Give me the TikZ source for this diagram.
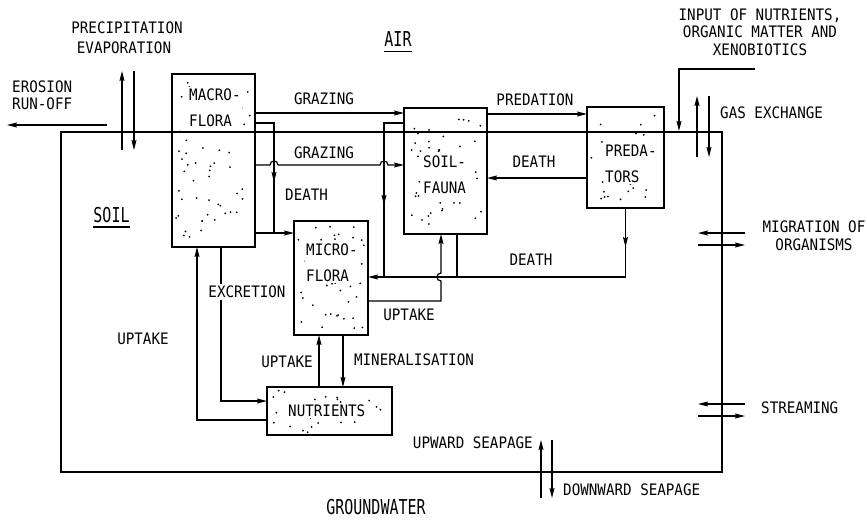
\documentclass[tikz,border=0pt]{standalone}
\usepackage{fontspec}
\newfontfamily\plotfont{DejaVu Sans Mono}[FakeStretch=0.9]
\newfontfamily\zonefont{DejaVu Sans Mono}[FakeStretch=0.73]
\newcommand{\lblfont}{\plotfont\fontsize{15.8}{18}\selectfont}
\newcommand{\poolfont}{\plotfont\fontsize{15.8}{26}\selectfont}
\newcommand{\zonetext}{\zonefont\fontsize{20.5}{24}\selectfont}
\usetikzlibrary{arrows.meta,calc,decorations.markings}

\begin{document}
\begin{tikzpicture}[x=1pt, y=-1pt,
    every node/.style={font=\lblfont, inner sep=0pt},
    flow/.style={line width=1.2pt, -{Stealth[length=10pt,width=5pt,inset=1.5pt]}},
    link/.style={line width=1.2pt},
    midtip/.style={postaction={decorate}, decoration={markings,
        mark=at position #1 with {\arrow{Stealth[length=10pt,width=5pt,inset=1.5pt]}}}},
    pool/.style={draw, line width=1.2pt, outer sep=0pt, inner sep=0pt},
    speckle/.style={path picture={
        \foreach \k in {1,...,#1}{
          \fill let \p1=(path picture bounding box.south west),
                    \p2=(path picture bounding box.north east) in
            ({\x1+(0.05+0.9*rnd)*(\x2-\x1)},{\y1+(0.05+0.9*rnd)*(\y2-\y1)}) circle (1pt);
        }}},
    pooltext/.style={align=left, anchor=west, fill=white, inner sep=1.5pt, font=\poolfont},
    zone/.style={font=\zonetext}]
  \useasboundingbox (0,0) rectangle (867,520);
  \pgfmathsetseed{7}

  % --- compartments ----------------------------------------------------
  \node[pool, speckle=60, minimum width=83pt, minimum height=173pt] (macro) at (213.5,160.5) {};
  \node[pool, speckle=45, minimum width=83pt, minimum height=126pt] (fauna) at (445.5,171) {};
  \node[pool, speckle=32, minimum width=77pt, minimum height=101pt] (pred) at (625.5,157.5) {};
  \node[pool, speckle=45, minimum width=74pt, minimum height=114pt] (micro) at (331,278) {};
  \node[pool, speckle=32, minimum width=125pt, minimum height=48pt] (nutr) at (329.5,411) {};

  \node[pooltext] (macro-l) at (187.5,107.5) {MACRO-\\FLORA};
  \node[pooltext] (fauna-l) at (421.5,174.5) {SOIL-\\FAUNA};
  \node[pooltext] (pred-l) at (603.5,163.5) {PREDA-\\TORS};
  \node[pooltext] (micro-l) at (304.5,262.5) {MICRO-\\FLORA};
  \node[pooltext] (nutr-l) at (286.5,411) {NUTRIENTS};

  % soil compartment, its top is the soil surface
  \node[draw, line width=2.2pt, minimum width=661pt, minimum height=340pt] (soil) at (391.5,302) {};

  % --- flows between compartments --------------------------------------
  % grazing above and below ground
  \draw[flow] (macro.east |- 0,113) -- (fauna.west |- 0,113);
  \node (graze-a) at (324,99) {GRAZING};
  \draw[flow] (macro.east |- 0,165) -- (270,165) .. controls (270,159.7) and (278,159.7) .. (278,165)
    -- (380,165) .. controls (380,159.7) and (388,159.7) .. (388,165) -- (fauna.west |- 0,165);
  \node (graze-b) at (324,153) {GRAZING};

  % death of macroflora
  \coordinate (mjoin) at (274,233);
  \draw[link, midtip=78pt] (macro.east |- 0,123) -| (mjoin);
  \draw[flow] (macro.east |- mjoin) -- (micro.west |- mjoin);
  \node[anchor=west] (death-a) at (285,195) {DEATH};

  % predation and death of predators
  \draw[flow] (fauna.east |- 0,114) -- (pred.west |- 0,114);
  \node (preda) at (535,100) {PREDATION};
  \draw[flow] (pred.west |- 0,178) -- (fauna.east |- 0,178);
  \node (death-b) at (534,162) {DEATH};

  % dead organisms to microflora
  \coordinate (fjoin) at (384,277);
  \draw[link, midtip=102pt] (fauna.west |- 0,123) -| (fjoin);
  \draw[link] (fauna.south -| 457,0) -- (457,277);
  \draw[flow, midtip=39pt] (pred.south) -- (pred.south |- fjoin) -- (micro.east |- fjoin);
  \node (death-c) at (531,260) {DEATH};

  % uptake by soil fauna, hopping the death line
  \draw[flow] (micro.east |- 0,301) -- (441,301) -- (441,281)
    .. controls (435.7,281) and (435.7,273) .. (441,273) -- (fauna.south -| 441,0);
  \node (upt-a) at (409,315) {UPTAKE};

  % macroflora and nutrients
  \draw[flow] (macro.south -| 221,0) -- (221,401) -- (nutr.west |- 0,401);
  \node[fill=white, inner sep=2pt] (excr) at (247,292) {EXCRETION};
  \draw[flow] (nutr.west |- 0,420) -- (197,420) -- (macro.south -| 197,0);
  \node (upt-b) at (143,339) {UPTAKE};

  % microflora and nutrients
  \draw[flow] (nutr.north -| 319,0) -- (micro.south -| 319,0);
  \draw[flow] (micro.south -| 343,0) -- (nutr.north -| 343,0);
  \node (upt-c) at (287,362) {UPTAKE};
  \node (miner) at (414,360) {MINERALISATION};

  % --- exchanges across the boundaries ---------------------------------
  \coordinate (rainbot) at (122,150);
  \coordinate (raintop) at (122,71);
  \draw[flow] (rainbot) -- (raintop);
  \draw[flow] (raintop -| 134,0) -- (rainbot -| 134,0);
  \node (precip) at (127,28) {PRECIPITATION};
  \node (evap) at (124,48) {EVAPORATION};

  \coordinate (erofrom) at (107,125);
  \coordinate (eroto) at (7,125);
  \draw[flow] (erofrom) -- (eroto);
  \node[anchor=west] (erosion) at (12,87) {EROSION};
  \node[anchor=west] (runoff) at (12,104) {RUN-OFF};

  \coordinate (inputin) at (755,69);
  \draw[flow] (inputin) -| (soil.north -| 679,0);
  \node[align=center, font=\plotfont\fontsize{15.8}{17.5}\selectfont] (input) at (760,32)
    {INPUT OF NUTRIENTS,\\ORGANIC MATTER AND\\XENOBIOTICS};

  \coordinate (gasbot) at (697,157);
  \coordinate (gastop) at (697,96);
  \draw[flow] (gasbot) -- (gastop);
  \draw[flow] (gastop -| 709,0) -- (gasbot -| 709,0);
  \node[anchor=west] (gas) at (720,113) {GAS EXCHANGE};

  \coordinate (migout) at (698,233);
  \coordinate (migin) at (745,233);
  \draw[flow] (migin) -- (migout);
  \draw[flow] (migout |- 0,245) -- (migin |- 0,245);
  \node[align=center] (migr) at (814,236) {MIGRATION OF\\ORGANISMS};

  \coordinate (strout) at (698,404);
  \coordinate (strin) at (745,404);
  \draw[flow] (strin) -- (strout);
  \draw[flow] (strout |- 0,416) -- (strin |- 0,416);
  \node[anchor=west] (stream) at (761,408) {STREAMING};

  \coordinate (seepbot) at (541,498);
  \coordinate (seeptop) at (541,440);
  \draw[flow] (seepbot) -- (seeptop);
  \draw[flow] (seeptop -| 552,0) -- (seepbot -| 552,0);
  \node[anchor=east] (upseep) at (533,443) {UPWARD SEAPAGE};
  \node[anchor=west] (downseep) at (563,490) {DOWNWARD SEAPAGE};

  % --- zones -------------------------------------------------------------
  \node[zone, anchor=base] (air) at (398,46.5) {AIR};
  \draw[line width=1.2pt] ([yshift=-5pt]air.base west) -- ([yshift=-5pt]air.base east);
  \node[zone, anchor=base] (soiltag) at (111.5,222) {SOIL};
  \draw[line width=1.2pt] ([yshift=-5pt]soiltag.base west) -- ([yshift=-5pt]soiltag.base east);
  \node[zone] (gw) at (376,507) {GROUNDWATER};
\end{tikzpicture}
\end{document}
